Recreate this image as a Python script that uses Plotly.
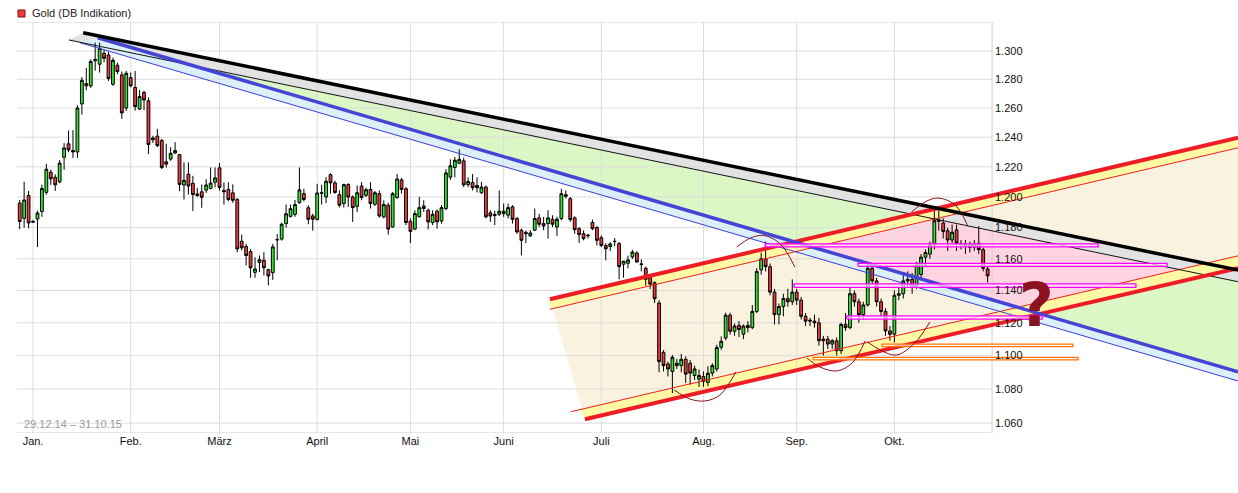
import numpy as np
import pandas as pd
import plotly.graph_objects as go

# ---------------- data ----------------
dates = pd.bdate_range("2014-12-29", "2015-10-30")
dates = dates[dates != pd.Timestamp("2015-04-03")]
idx = list(range(len(dates)))

ohlc = [
(1196,1198,1179,1184),(1186,1210,1180,1198),(1201,1204,1179.5,1183),(1184,1185,1183,1183.6),
(1185.6,1191,1167.5,1189.5),(1190.5,1208,1187,1205.6),(1203,1222,1201.5,1218.4),(1216.4,1218,1208,1212),
(1213,1215,1204,1208),(1210,1224.5,1209,1222.5),(1226.4,1236,1218,1232.7),(1235.5,1244.5,1229.8,1231.4),
(1231,1244.8,1226,1230),(1230,1262,1226,1260),(1262.8,1281.6,1255.5,1279.3),(1277,1288,1272.4,1275.4),
(1275.4,1294,1274,1292.5),(1293,1306,1286,1294),(1290.6,1306,1284.7,1301.9),(1298.4,1301,1292,1294.8),
(1297.2,1299.5,1278.8,1280.5),(1276.5,1295.3,1275.4,1293.4),(1289.9,1291.8,1283.5,1285.4),(1283.1,1285.4,1252.5,1256.6),
(1260,1285.9,1258,1284.2),(1281.2,1284.7,1274.3,1275.4),(1274.3,1285.9,1258.2,1261),(1259.3,1272.4,1258.6,1268),
(1270.8,1272,1258.6,1265.5),(1265,1267.3,1228.6,1235),(1238.2,1241,1236,1239.5),(1240.7,1245.7,1233.2,1234.3),
(1237.7,1238.9,1218.5,1219.6),(1223.4,1235.5,1219.5,1221.8),(1225.2,1233.2,1224,1229.1),(1229.3,1236.6,1228.6,1230.9),
(1228.2,1228.6,1203.8,1208.3),(1207.9,1223,1198.3,1211),(1215.1,1223,1201.6,1207.2),(1209,1214,1190.8,1201.6),
(1202,1206,1200,1201),(1203.4,1208.3,1192.9,1199.8),(1204.5,1211.7,1202.7,1207.9),(1205.6,1219.6,1205,1209.2),
(1209.7,1219.6,1206.3,1212.6),(1219.3,1222.5,1204.3,1206.3),(1204.3,1209.7,1195,1203.4),(1205,1209.7,1197.2,1198.3),
(1202.7,1208.3,1196.1,1197.8),(1198.3,1199.4,1164.2,1166.3),(1171.2,1175.4,1165.3,1167),(1167.8,1169.5,1155.8,1162.1),
(1164.6,1166.3,1148,1154.3),(1151.4,1161,1148,1153.5),(1157.7,1162.1,1151.6,1159.4),(1159,1164.2,1149.5,1154.3),
(1153.1,1153.7,1143.2,1149.1),(1151.2,1169.5,1146.7,1167.6),(1172,1175.8,1159,1172.3),(1172.6,1183.2,1171.6,1182.2),
(1182.6,1195,1180,1189),(1187.3,1195,1186.5,1192.3),(1188.6,1198,1187,1195),(1196.3,1219.6,1195.5,1204.7),
(1202.2,1205.4,1197.2,1198.3),(1192.9,1194.6,1182.2,1185.4),(1187.6,1189,1178,1185.5),(1185.2,1208.7,1184.8,1202.6),
(1202.8,1208,1195,1202.4),(1200,1213.1,1196.1,1210.4),(1214.8,1215.6,1202.2,1209.3),(1209.3,1210.8,1202.2,1203),
(1201.5,1204.3,1193.1,1194.6),(1195.7,1208.7,1193.1,1208.2),(1208.2,1209.1,1193.5,1200),(1200,1201,1183.7,1193),
(1193.9,1207.6,1190.2,1202.8),(1207.2,1209.8,1197.8,1199.6),(1201.1,1206,1200,1204.8),(1205,1209.8,1192.4,1195.7),
(1195.2,1204,1194,1202.8),(1202.2,1204.3,1186.5,1187.5),(1187,1197.8,1186,1195),(1194.6,1196.1,1175.5,1179.1),
(1180.4,1203.3,1180,1202.2),(1199.6,1215.2,1198.9,1211.9),(1211.3,1212.6,1202.2,1205),(1205.4,1206.5,1181.6,1183.3),
(1184.1,1186,1170.1,1177.6),(1179.1,1191.3,1178.3,1189.1),(1187,1200,1186.6,1193),(1194.1,1197.8,1190.2,1192.4),
(1191.3,1192.4,1178.9,1183.7),(1183.3,1191.3,1181.6,1188.7),(1190.7,1191.8,1179.3,1183.7),(1184.3,1194.6,1182.6,1193),
(1192.4,1218.5,1191.3,1215.9),(1213.1,1225,1211.3,1220.7),(1219.6,1226.6,1213,1224.4),(1222.4,1231.8,1221.7,1225),
(1224,1226.2,1206.5,1208),(1208.2,1213,1206.5,1210.2),(1209.6,1215.2,1204.3,1206.1),(1207.6,1213,1203,1206.1),
(1202.8,1210,1202,1206.5),(1206.5,1207.6,1186,1187),(1189.6,1191.3,1183.7,1187.5),(1188.5,1191,1181.6,1188),
(1188.7,1204.3,1187.5,1190.7),(1190.7,1195.7,1187,1189.1),(1188.1,1195.7,1185.9,1193),(1193.5,1194.6,1182.6,1185.4),
(1185.9,1187,1176,1177.2),(1178.3,1179.4,1162.2,1171.8),(1177,1178,1170,1176),(1174.6,1178.3,1174.2,1176.5),
(1178.3,1192.4,1177.8,1185.9),(1186.3,1189,1180.4,1182.2),(1182.6,1187,1178.3,1181.1),(1182.6,1191.3,1172.9,1186.3),
(1185.4,1188,1180.4,1182.2),(1180.4,1187,1174.6,1185.4),(1185.9,1205.4,1184.8,1202.2),(1201.5,1204.3,1198.9,1200.4),
(1198.9,1200,1183.7,1185.2),(1186.3,1187.4,1176.1,1178.7),(1179.3,1180.4,1170.1,1175.5),(1176.1,1178.3,1171.8,1172.9),
(1175.2,1176,1173,1174.8),(1183.3,1185.2,1178.3,1179.3),(1180,1181,1168.5,1171.8),(1173.5,1175,1167.4,1168.5),
(1168.5,1170,1159,1166.4),(1167.8,1170.5,1165,1169.5),(1171.2,1173.3,1168,1171),(1169.7,1170.8,1147,1155),
(1156.5,1158,1148,1158.5),(1157.2,1162,1154,1159.3),(1161.2,1165.6,1160,1164.3),(1163.7,1164.8,1157.4,1158),
(1156.7,1159.6,1152,1156.5),(1154,1155,1143,1147),(1148,1149,1141,1144),(1144.8,1145.8,1132.2,1134.8),
(1132.2,1134,1090,1096.4),(1102,1103.4,1090.5,1094),(1095,1096.4,1087.5,1092),(1090.5,1100.4,1077.6,1099),
(1094,1098,1092,1095.4),(1094,1101,1090,1097.8),(1097.8,1099.5,1083.6,1088.9),(1095.4,1097.4,1082.6,1089.5),
(1088.1,1094,1085.4,1092),(1085.9,1091.6,1081.3,1088.1),(1087.5,1090.5,1081.3,1084.6),(1084,1093.6,1081.8,1089.5),
(1089.5,1095.4,1087.5,1094),(1092,1106.6,1090.5,1104.9),(1105.1,1111.7,1103.5,1108.7),(1110.7,1126.2,1109.3,1124.7),
(1124.7,1126.2,1112.8,1114.8),(1114.8,1119.6,1112,1118),(1118.4,1121,1111.3,1115.9),(1113,1119,1110,1118),
(1118.4,1121,1114,1117),(1117,1131,1116,1127),(1127,1154,1126,1152),(1153,1164,1150,1160),
(1160,1171,1152,1155),(1155,1157,1137,1139),(1139,1141,1119,1125),(1125,1132,1119,1130),
(1130,1138,1124,1135),(1135,1141,1130,1133),(1133,1147,1131,1139),(1139,1141,1131,1134),
(1134,1136,1122,1124),(1124,1126,1118,1121),(1121,1123,1118,1121.5),(1121,1125,1117,1120),
(1120,1123,1106,1109),(1109,1112,1100,1110),(1110,1112,1104,1107),(1107,1110,1104,1109),
(1109,1111,1100,1103),(1103,1120,1101,1119),(1119,1126,1115,1117),(1117,1142,1116,1138),
(1138,1140,1130,1133),(1133,1135,1120,1125),(1125,1133,1122,1131),(1131,1157,1130,1154),
(1154,1156,1144,1146),(1146,1148,1130,1133),(1133,1135,1124,1127),(1127,1129,1112,1115),
(1115,1118,1109,1113),(1113,1140,1108,1137),(1137,1142,1134,1138),(1138,1150,1135,1146),
(1146,1152,1142,1147),(1147,1151,1138,1143),(1143,1158,1141,1156),(1150,1163,1148,1161),
(1161,1166,1155,1164),(1163,1171,1160,1169),(1169.4,1192,1166,1184.5),(1185,1191,1178,1184),
(1183,1186,1173,1177.5),(1178,1180,1165,1172),(1172,1182,1170,1177),(1178.5,1182,1165,1170),
(1169.5,1172,1166,1169.3),(1169.4,1172,1163,1168.5),(1168.9,1171,1164,1167.2),(1167.5,1172,1165,1169.4),
(1170,1181,1163,1165.8),(1165.8,1167,1152,1154),(1153.5,1155,1145,1149.2),
]
open_ = [r[0] for r in ohlc]
high = [r[1] for r in ohlc]
low = [r[2] for r in ohlc]
close = [r[3] for r in ohlc]

month_names = ["Jan.", "Feb.", "März", "April", "Mai", "Juni", "Juli", "Aug.", "Sep.", "Okt."]
y_ticks = [1060, 1080, 1100, 1120, 1140, 1160, 1180, 1200, 1220, 1240, 1260, 1280, 1300]
y_tick_text = ["1.060", "1.080", "1.100", "1.120", "1.140", "1.160", "1.180", "1.200",
               "1.220", "1.240", "1.260", "1.280", "1.300"]

# drawn trend lines: ([start idx, end idx], [start price, end price])
black_thick = ([14.3, 274.4], [1313.1, 1152.8])
black_thin = ([11.1, 274.4], [1307.9, 1145.5])
blue_thick = ([17.6, 274.4], [1309.5, 1090.3])
blue_thin = ([13.6, 274.4], [1305.9, 1084.8])
red_up_thick = ([119.4, 274.4], [1134.5, 1239.6])
red_up_thin = ([119.4, 274.4], [1128.3, 1232.8])
red_lo_thick = ([127.3, 274.4], [1062.3, 1154.1])
red_lo_thin = ([124.2, 274.4], [1066.7, 1161.9])

# horizontal marker boxes: (start idx, end idx, low price, high price)
magenta_boxes = [(167.9, 242.9, 1167.6, 1169.5), (188.8, 258.4, 1155.2, 1157.1),
                 (174.4, 251.4, 1141.9, 1144.1), (186.3, 230.3, 1122.3, 1124.2)]
orange_boxes = [(194.2, 237.2, 1105.5, 1107.0), (178.7, 238.4, 1097.4, 1098.9)]

# hand drawn arcs (idx, price)
arcs = [
    ([147.4, 151.0, 154.4, 157.7, 161.3], [1079.5, 1074.1, 1073.0, 1076.5, 1090.2]),
    ([161.5, 164.5, 167.4, 171.2, 174.6], [1167.5, 1173.1, 1175.0, 1169.8, 1154.7]),
    ([177.3, 180.2, 184.0, 187.5, 190.4], [1098.6, 1093.2, 1090.8, 1095.6, 1108.9]),
    ([190.8, 193.8, 197.5, 201.6, 205.0], [1108.5, 1103.4, 1100.4, 1107.7, 1120.5]),
    ([200.9, 203.9, 206.8, 210.7, 213.6], [1190.3, 1196.7, 1199.3, 1194.7, 1180.6]),
]

# ---------------- geometry helpers ----------------
X_MIN, X_MAX = -0.608, 274.39
Y_MIN, Y_MAX = 1054.3, 1320.85
X_FRAME = 219.0   # right edge of the price grid (index units)


def at(seg, xs):
    (x0, x1), (v0, v1) = seg
    l0, l1 = np.log10(v0), np.log10(v1)
    return 10 ** (l0 + (np.asarray(xs, float) - x0) * (l1 - l0) / (x1 - x0))


def band(a, b, xa=None, xb=None):
    xa = xa if xa is not None else a[0][0]
    xb = xb if xb is not None else b[0][0]
    xs = [xa, a[0][1], b[0][1], xb]
    ys = [at(a, xa), a[1][1], b[1][1], at(b, xb)]
    return xs, ys


fig = go.Figure()


def poly(xs, ys, color):
    fig.add_trace(go.Scatter(x=list(xs) + [xs[0]], y=list(ys) + [ys[0]], mode="lines",
                             fill="toself", fillcolor=color, line=dict(width=0),
                             hoverinfo="skip", showlegend=False))


# green wedge between thin black and thick blue
grid_i = np.arange(0, X_MAX + 0.05, 0.05)
diff = np.log10(at(black_thin, grid_i)) - np.log10(at(blue_thick, grid_i))
xc = grid_i[np.argmax(diff > 0)]
poly([xc, X_MAX, X_MAX], [at(black_thin, xc), at(black_thin, X_MAX), at(blue_thick, X_MAX)], "#dcf7c6")

# beige channel
poly([red_up_thick[0][0], X_MAX, X_MAX, red_lo_thick[0][0]],
     [red_up_thick[1][0], red_up_thick[1][1], red_lo_thick[1][1], red_lo_thick[1][0]], "#f8f2df")

# pink: channel interior overlapping the wedge
top = np.minimum(np.log10(at(red_up_thin, grid_i)), np.log10(at(black_thin, grid_i)))
bot = np.maximum(np.log10(at(red_lo_thin, grid_i)), np.log10(at(blue_thick, grid_i)))
ok = (top > bot) & (grid_i > 120)
pi = grid_i[ok]
poly(list(pi) + list(pi[::-1]), list(10 ** top[ok]) + list(10 ** bot[ok][::-1]), "#ffd4e0")

# gray band, light blue band
xs, ys = band(black_thick, black_thin)
poly(xs, ys, "#e2e2e2")
xs, ys = band(blue_thick, blue_thin)
poly(xs, ys, "#dcf0f9")

# yellow bands
xs, ys = band(red_up_thick, red_up_thin)
poly(xs, ys, "#fff8a4")
xs, ys = band(red_lo_thick, red_lo_thin, xb=126.2)
poly(xs, ys, "#fff8a4")

# grid
month_idx = []
for m in range(1, 11):
    month_idx.append(int(np.argmax((dates.month == m) & (dates.year == 2015))))
gx, gy = [], []
for m in month_idx:
    gx += [m, m, None]
    gy += [Y_MIN, Y_MAX, None]
for t in y_ticks:
    gx += [X_MIN, X_FRAME, None]
    gy += [t, t, None]
fig.add_trace(go.Scatter(x=gx, y=gy, mode="lines", line=dict(color="#dcdcdc", width=1),
                         hoverinfo="skip", showlegend=False))
fig.add_trace(go.Scatter(x=[X_MIN, X_FRAME, X_FRAME, X_MIN], y=[Y_MAX, Y_MAX, Y_MIN, Y_MIN],
                         mode="lines", line=dict(color="#d0d0d0", width=1),
                         hoverinfo="skip", showlegend=False))

# candles on overlay axes
fig.add_trace(go.Candlestick(
    x=idx, open=open_, high=high, low=low, close=close, xaxis="x2", yaxis="y2",
    increasing=dict(fillcolor="#2ee42e", line=dict(color="black", width=1)),
    decreasing=dict(fillcolor="#ef3b3b", line=dict(color="black", width=1)),
    whiskerwidth=0, showlegend=False, hoverinfo="skip"))


def seg_line(seg, color, width, x_start=None):
    xs = [seg[0][0] if x_start is None else x_start, seg[0][1]]
    fig.add_trace(go.Scatter(x=xs, y=list(at(seg, xs)), mode="lines", xaxis="x2", yaxis="y2",
                             line=dict(color=color, width=width), hoverinfo="skip", showlegend=False))


seg_line(red_up_thin, "#f01e1e", 1)
seg_line(red_lo_thin, "#f01e1e", 1)
seg_line(blue_thin, "#3c3cdc", 1)
seg_line(black_thin, "#111111", 1)
seg_line(red_up_thick, "#ee1c25", 4)
seg_line(red_lo_thick, "#ee1c25", 4)
seg_line(blue_thick, "#4545d5", 3.5)
seg_line(black_thick, "#000000", 3.5)

for x0, x1, v0, v1 in magenta_boxes:
    fig.add_trace(go.Scatter(x=[x0, x1, x1, x0, x0], y=[v0, v0, v1, v1, v0], mode="lines",
                             xaxis="x2", yaxis="y2", fill="toself", fillcolor="rgba(255,235,250,0.7)",
                             line=dict(color="#ff00ff", width=1.3), hoverinfo="skip", showlegend=False))
for x0, x1, v0, v1 in orange_boxes:
    fig.add_trace(go.Scatter(x=[x0, x1, x1, x0, x0], y=[v0, v0, v1, v1, v0], mode="lines",
                             xaxis="x2", yaxis="y2", fill="toself", fillcolor="rgba(255,245,230,0.7)",
                             line=dict(color="#ff7410", width=1.3), hoverinfo="skip", showlegend=False))
for ax_, ay_ in arcs:
    fig.add_trace(go.Scatter(x=ax_, y=ay_, mode="lines", xaxis="x2", yaxis="y2",
                             line=dict(color="#8b0f1a", width=1, shape="spline"),
                             hoverinfo="skip", showlegend=False))

W, H = 1238, 493
L_, R_, T_, B_ = 17, 0, 22, 60
pw, ph = W - L_ - R_, H - T_ - B_


def px(x):
    return (x - L_) / pw


def py(y):
    return (H - B_ - y) / ph


font = "Liberation Sans, Arial, sans-serif"
fig.update_layout(
    width=W, height=H, margin=dict(l=L_, r=R_, t=T_, b=B_),
    paper_bgcolor="white", plot_bgcolor="white", showlegend=False, boxgap=0.1,
    xaxis=dict(range=[X_MIN, X_MAX], tickmode="array", tickvals=month_idx, ticktext=month_names,
               showgrid=False, zeroline=False, showline=False, ticks="",
               tickfont=dict(family=font, size=11, color="#111"), rangeslider=dict(visible=False)),
    yaxis=dict(type="log", range=[np.log10(Y_MIN), np.log10(Y_MAX)], anchor="free",
               position=(992 - L_) / pw, side="right", showgrid=False, zeroline=False,
               showline=False, ticks="", tickmode="array", tickvals=y_ticks, ticktext=y_tick_text,
               ticklabelstandoff=2, tickfont=dict(family=font, size=11, color="#111")),
    xaxis2=dict(range=[X_MIN, X_MAX], overlaying="x", anchor="y2", visible=False,
                rangeslider=dict(visible=False)),
    yaxis2=dict(type="log", range=[np.log10(Y_MIN), np.log10(Y_MAX)], overlaying="y",
                anchor="x2", visible=False),
)

fig.add_shape(type="rect", xref="paper", yref="paper", x0=px(18), x1=px(25), y0=py(17), y1=py(10),
              fillcolor="#ef3b3b", line=dict(color="#7a1010", width=1))
fig.add_annotation(xref="paper", yref="paper", x=px(30), y=py(13.5), xanchor="left", yanchor="middle",
                   text="Gold (DB Indikation)", showarrow=False,
                   font=dict(family=font, size=11, color="#222"))
fig.add_annotation(xref="paper", yref="paper", x=px(22), y=py(424), xanchor="left", yanchor="middle",
                   text="29.12.14 – 31.10.15", showarrow=False,
                   font=dict(family=font, size=11, color="#9a9a9a"))
fig.add_annotation(xref="paper", yref="paper", x=px(1036), y=py(305), xanchor="center", yanchor="middle",
                   text="<b>?</b>", showarrow=False,
                   font=dict(family="DejaVu Sans, sans-serif", size=60, color="#8b1220"))

fig.write_html("out.html", config={"displayModeBar": False},
               post_script="document.body.style.margin='0';")
